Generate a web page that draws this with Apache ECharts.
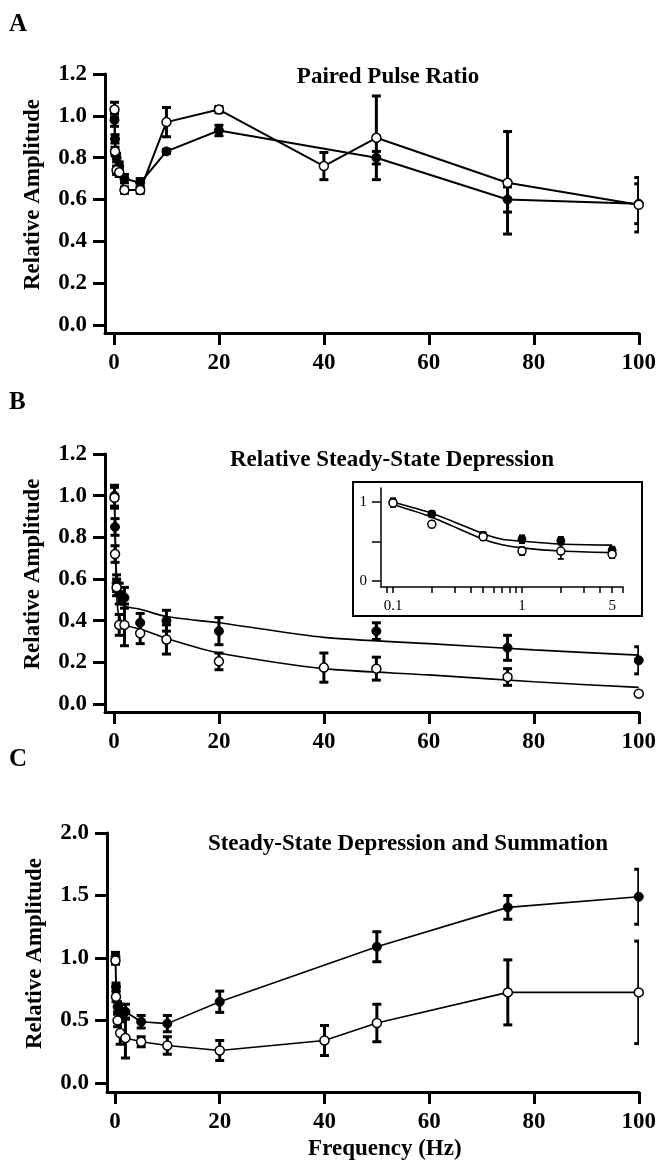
<!DOCTYPE html>
<html><head><meta charset="utf-8">
<script src="https://cdn.jsdelivr.net/npm/echarts@6/dist/echarts.min.js"></script>
<style>html,body{margin:0;padding:0;background:#fff}#c{width:659px;height:1168px}</style>
</head><body><div id="c"></div>
<script>
// ---- data ----
const freqs = [0.1, 0.2, 0.5, 1, 2, 5, 10, 20, 40, 50, 75, 100];
const xTicks = [0, 20, 40, 60, 80, 100];
const yTicksAB = [0, 0.2, 0.4, 0.6, 0.8, 1.0, 1.2];
const yTicksC = [0, 0.5, 1.0, 1.5, 2.0];

// Panel A: Paired Pulse Ratio
const aFilled    = [0.98, 0.89, 0.80, 0.76, 0.70, 0.68, 0.83, 0.93, null, 0.80, 0.60, 0.58];
const aFilledErr = [0.03, 0.02, 0.02, 0.02, 0.02, 0.02, 0.01, 0.025, null, 0.03, 0.06, 0.095];
const aOpen      = [1.03, 0.83, 0.74, 0.73, 0.645, 0.645, 0.97, 1.03, 0.76, 0.895, 0.68, 0.575];
const aOpenErr   = [0.035, 0.02, 0.02, 0.02, 0.015, 0.015, 0.07, 0.015, 0.065, 0.2, 0.245, 0.13];

// Panel B: Relative Steady-State Depression
const bFilled    = [1.0, 0.85, 0.58, 0.53, 0.51, 0.39, 0.40, 0.35, null, 0.35, 0.27, 0.21];
const bFilledErr = [0.05, 0.04, 0.04, 0.05, 0.05, 0.045, 0.05, 0.065, null, 0.04, 0.06, 0.065];
const bOpen      = [0.99, 0.72, 0.56, 0.38, 0.38, 0.34, 0.31, 0.205, 0.175, 0.17, 0.13, 0.05];
const bOpenErr   = [0.05, 0.04, 0.04, 0.05, 0.1, 0.05, 0.07, 0.04, 0.07, 0.055, 0.04, 0];
// fitted curves
const fitX       = [0.1, 0.2, 0.5, 0.7, 1, 2, 5, 10, 20, 40, 60, 80, 100];
const fitFilled  = [1.0, 0.86, 0.60, 0.53, 0.505, 0.47, 0.455, 0.42, 0.39, 0.32, 0.29, 0.26, 0.235];
const fitOpen    = [0.97, 0.81, 0.53, 0.46, 0.42, 0.38, 0.36, 0.315, 0.245, 0.17, 0.14, 0.107, 0.08];
const insetXTicks = [0.09, 0.1, 0.2, 0.3, 0.4, 0.5, 0.6, 0.7, 0.8, 0.9, 1, 2, 3, 4, 5, 6];
const insetXLabels = [0.1, 1, 5];
const insetYTicks = [0, 0.5, 1];
const insetYLabels = [0, 1];

// Panel C: Steady-State Depression and Summation
const cFilled    = [1.01, 0.77, 0.61, 0.58, 0.57, 0.49, 0.475, 0.65, null, 1.09, 1.405, 1.49];
const cFilledErr = [0.035, 0.03, 0.04, 0.05, 0.06, 0.05, 0.065, 0.085, null, 0.12, 0.095, 0.22];
const cOpen      = [0.98, 0.69, 0.50, 0.40, 0.36, 0.33, 0.30, 0.26, 0.34, 0.48, 0.725, 0.725];
const cOpenErr   = [0.03, 0.04, 0.05, 0.09, 0.16, 0.04, 0.07, 0.08, 0.12, 0.15, 0.26, 0.41];

// ---- helpers ----
const FONT = "'Liberation Serif','Times New Roman',serif";
function pts(vals) { return freqs.map((f, i) => [f, vals[i]]); }
function errs(vals, e, maxF) {
  const out = [];
  freqs.forEach((f, i) => {
    if (vals[i] == null || !e[i]) return;
    if (maxF && f > maxF) return;
    out.push([f, vals[i] - e[i], vals[i] + e[i]]);
  });
  return out;
}
function errRender(capW, lw) {
  return function (params, api) {
    const x = api.value(0), lo = api.value(1), hi = api.value(2);
    const p1 = api.coord([x, lo]), p2 = api.coord([x, hi]);
    const st = { stroke: '#000', lineWidth: lw };
    return { type: 'group', children: [
      { type: 'line', shape: { x1: p1[0], y1: p1[1], x2: p2[0], y2: p2[1] }, style: st },
      { type: 'line', shape: { x1: p1[0] - capW, y1: p1[1], x2: p1[0] + capW, y2: p1[1] }, style: st },
      { type: 'line', shape: { x1: p2[0] - capW, y1: p2[1], x2: p2[0] + capW, y2: p2[1] }, style: st }
    ]};
  };
}
function errSeries(idx, data, capW, lw) {
  return { type: 'custom', xAxisIndex: idx, yAxisIndex: idx, data: data, clip: true, z: 2,
    renderItem: errRender(capW, lw), silent: true };
}
function ptSeries(idx, vals, open, withLine, size, lw) {
  return { type: 'line', xAxisIndex: idx, yAxisIndex: idx, data: pts(vals), connectNulls: true,
    symbol: 'circle', symbolSize: size, showSymbol: true, z: 3, clip: true,
    lineStyle: withLine ? { color: '#000', width: lw } : { width: 0, opacity: 0 },
    itemStyle: open ? { color: '#fff', borderColor: '#000', borderWidth: 1.5 } : { color: '#000', borderColor: '#000', borderWidth: 1 }
  };
}
function fitSeries(idx, xs, ys, lw) {
  return { type: 'line', xAxisIndex: idx, yAxisIndex: idx, data: xs.map((x, i) => [x, ys[i]]),
    symbol: 'none', smooth: 0.25, clip: true, z: 2, lineStyle: { color: '#000', width: lw } };
}
const FS = 23;
const axisLine = { show: true, onZero: false, lineStyle: { color: '#000', width: 3 } };
function xAx(idx, min, name) {
  return { type: 'value', gridIndex: idx, min: min, max: 100, splitLine: { show: false },
    axisLine: axisLine,
    axisTick: { show: true, length: 12, lineStyle: { color: '#000', width: 3 }, customValues: xTicks },
    axisLabel: { customValues: xTicks, margin: 19, color: '#000', fontFamily: FONT, fontWeight: 'bold', fontSize: FS },
    name: name || '', nameLocation: 'middle', nameGap: 46,
    nameTextStyle: { color: '#000', fontFamily: FONT, fontWeight: 'bold', fontSize: FS, padding: [0, 0, 0, 24] } };
}
function yAx(idx, min, max, ticks) {
  return { type: 'value', gridIndex: idx, min: min, max: max, splitLine: { show: false },
    axisLine: axisLine,
    axisTick: { show: true, length: 12, lineStyle: { color: '#000', width: 3 }, customValues: ticks },
    axisLabel: { customValues: ticks, margin: 18, color: '#000', fontFamily: FONT, fontWeight: 'bold', fontSize: FS,
      formatter: v => v.toFixed(1) },
    name: 'Relative Amplitude', nameLocation: 'middle', nameGap: 60, nameRotate: 90,
    nameTextStyle: { color: '#000', fontFamily: FONT, fontWeight: 'bold', fontSize: FS, padding: [0, 0, 0, 18] } };
}
const tStyle = { color: '#000', fontFamily: FONT, fontWeight: 'bold', fontSize: FS };
const lStyle = { color: '#000', fontFamily: FONT, fontWeight: 'bold', fontSize: 25 };

const option = {
  animation: false,
  backgroundColor: '#fff',
  title: [
    { text: 'A', left: 4, top: 7, textStyle: lStyle },
    { text: 'B', left: 4, top: 385, textStyle: lStyle },
    { text: 'C', left: 4, top: 742, textStyle: lStyle },
    { text: 'Paired Pulse Ratio', left: 383, top: 61, textAlign: 'center', textStyle: tStyle },
    { text: 'Relative Steady-State Depression', left: 387, top: 444, textAlign: 'center', textStyle: tStyle },
    { text: 'Steady-State Depression and Summation', left: 403, top: 828, textAlign: 'center', textStyle: tStyle }
  ],
  grid: [
    { left: 105, top: 74, width: 535, height: 259 },
    { left: 105, top: 454, width: 535, height: 258 },
    { left: 107, top: 833, width: 533, height: 259 },
    { left: 381, top: 488, width: 242, height: 99 }
  ],
  xAxis: [
    xAx(0, -1.71), xAx(1, -1.71), xAx(2, -1.52, 'Frequency (Hz)'),
    { type: 'log', gridIndex: 3, min: 0.0807, max: 6.07, logBase: 10, splitLine: { show: false },
      axisLine: { show: true, onZero: false, lineStyle: { color: '#000', width: 1.5 } },
      axisTick: { show: true, length: 6, lineStyle: { color: '#000', width: 1.5 }, customValues: insetXTicks },
      minorTick: { show: false },
      axisLabel: { customValues: insetXLabels, margin: 12, color: '#000', fontFamily: FONT, fontSize: 15,
        formatter: v => String(+v.toFixed(1)) } }
  ],
  yAxis: [
    yAx(0, -0.038, 1.2, yTicksAB), yAx(1, -0.038, 1.2, yTicksAB), yAx(2, -0.072, 2.0, yTicksC),
    { type: 'value', gridIndex: 3, min: -0.076, max: 1.18, splitLine: { show: false },
      axisLine: { show: true, onZero: false, lineStyle: { color: '#000', width: 1.5 } },
      axisTick: { show: true, length: 9, lineStyle: { color: '#000', width: 1.5 }, customValues: insetYTicks },
      axisLabel: { customValues: insetYLabels, margin: 14, color: '#000', fontFamily: FONT, fontSize: 15 } }
  ],
  graphic: [
    { type: 'rect', shape: { x: 353, y: 482, width: 289, height: 134 }, style: { fill: 'none', stroke: '#000', lineWidth: 2 }, z: 1 }
  ],
  series: [
    // A
    errSeries(0, errs(aFilled, aFilledErr), 4.5, 3),
    errSeries(0, errs(aOpen, aOpenErr), 4.5, 3),
    ptSeries(0, aFilled, false, true, 9, 2),
    ptSeries(0, aOpen, true, true, 9, 2),
    // B
    fitSeries(1, fitX, fitFilled, 1.6),
    fitSeries(1, fitX, fitOpen, 1.6),
    errSeries(1, errs(bFilled, bFilledErr), 4.5, 3),
    errSeries(1, errs(bOpen, bOpenErr), 4.5, 3),
    ptSeries(1, bFilled, false, false, 9, 0),
    ptSeries(1, bOpen, true, false, 9, 0),
    // inset
    fitSeries(3, fitX.filter(x => x <= 6), fitFilled.slice(0, fitX.filter(x => x <= 6).length), 1.6),
    fitSeries(3, fitX.filter(x => x <= 6), fitOpen.slice(0, fitX.filter(x => x <= 6).length), 1.6),
    errSeries(3, errs(bFilled, bFilledErr, 6), 3, 1.8),
    errSeries(3, errs(bOpen, bOpenErr, 6), 3, 1.8),
    ptSeries(3, bFilled, false, false, 8, 0),
    ptSeries(3, bOpen, true, false, 8, 0),
    // C
    errSeries(2, errs(cFilled, cFilledErr), 4.5, 3),
    errSeries(2, errs(cOpen, cOpenErr), 4.5, 3),
    ptSeries(2, cFilled, false, true, 9, 1.6),
    ptSeries(2, cOpen, true, true, 9, 1.6)
  ]
};
const chart = echarts.init(document.getElementById('c'), null, { renderer: 'canvas' });
chart.setOption(option);
</script>
</body></html>
